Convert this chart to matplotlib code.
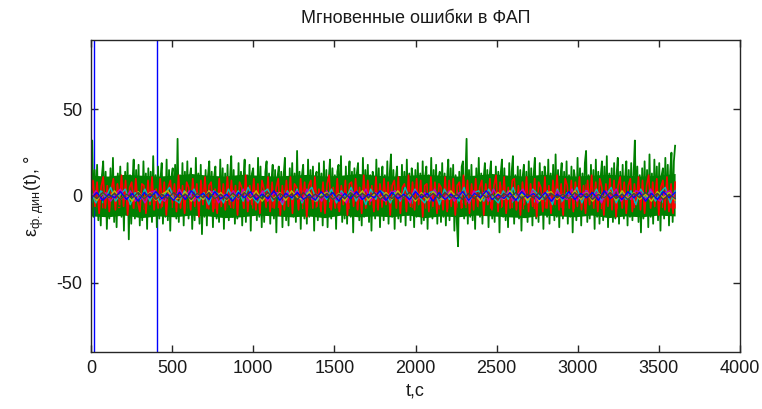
import numpy as np
import matplotlib
matplotlib.use('Agg')
import matplotlib.pyplot as plt

# phase error samples, degrees (t from 0 to 3600 s)
err_green = [
    2, 32, -12, 15, -8, 18, -14, 10, -17, 12, 20, -9, 14, -19, 7, -13, 16, -11, 22, -15, 9, -18, 13, -6,
    17, -12, 11, -20, 14, -9, 19, -25, 12, -16, 8, 21, -13, 15, -10, 18, -17, 11, -14, 20, -7, 13, -19, 16,
    -11, 14, -15, 23, -9, 12, -18, 17, -13, 10, 19, -16, 8, -12, 21, -14, 15, -20, 11, 16, -9, 18, -13, 33,
    -15, 12, -10, 19, -17, 14, -8, 20, -13, 11, 16, -19, 9, -14, 22, -11, 13, -16, 18, -22, 10, -12, 15, -17,
    12, 20, -9, 14, -18, 11, 17, -13, 9, -15, 21, -10, 16, -19, 13, -8, 18, -14, 10, 23, -12, 15, -16, 11,
    -13, 19, -11, 14, -17, 9, 21, -15, 12, -10, 18, -20, 13, 16, -9, 11, -14, 22, -12, 17, -18, 10, -15, 14,
    20, -11, 13, -16, 9, 18, -13, 15, -21, 11, 17, -10, 14, -18, 12, 22, -14, 10, -17, 16, -9, 19, -12, 13,
    -15, 26, -11, 14, -19, 12, 18, -13, 9, -16, 21, -12, 15, -10, 17, -20, 11, 14, -14, 19, -9, 13, -17, 20,
    -12, 15, -18, 10, 21, -13, 16, -11, 12, -19, 14, 18, -10, 23, -15, 11, -13, 17, -16, 9, 20, -12, 14, -21,
    16, -10, 13, 19, -14, 11, -17, 22, -12, 15, -9, 18, -15, 12, -20, 14, 10, -13, 21, -11, 16, -18, 9, 17,
    -14, 12, -10, 20, -16, 13, 24, -12, 15, -19, 10, 17, -13, 11, -15, 18, -9, 14, -17, 21, -11, 13, -14, 16,
    9, -18, 15, -12, 19, -10, 13, -16, 20, -14, 11, 17, -19, 12, -9, 22, -13, 15, -11, 18, -16, 10, 14, -15,
    19, -12, 13, -17, 10, 21, -14, 16, -11, 18, -20, 12, -15, -29, 14, -10, 17, 20, -13, 11, 33, -16, 15, -12,
    18, -14, 11, -19, 16, -9, 22, -12, 13, -16, 10, 19, -11, 15, -18, 12, 20, -13, 9, -15, 17, -10, 14, -21,
    13, 21, -12, 16, -14, 10, -18, 19, -11, 14, 23, -16, 12, -10, 17, -13, 15, -20, 11, 18, -9, 14, -15, 20,
    -11, 16, -17, 12, 22, -13, 10, -15, 19, -10, 14, -19, 17, 11, -12, 21, -16, 13, -9, 18, -14, 24, -12, 15,
    -18, 11, 19, -13, 14, -10, 20, -16, 12, -12, 17, -21, 15, 10, -14, 22, -11, 16, -17, 13, -9, 19, 26, -15,
    12, -13, 18, -10, 15, -19, 21, -12, 14, -16, 11, 20, -14, 17, -11, 23, -18, 13, -10, 16, -15, 19, -13, 12,
    22, -16, 14, -11, 18, -13, 10, 20, -17, 15, -12, 19, -14, 13, 32, -10, 17, -15, 12, -21, 16, -13, 20, -11,
    15, -18, 24, -12, 13, -16, 21, -10, 17, -14, 19, -20, 12, 16, -13, 22, -11, 18, -17, 14, 25, -15, 20, 29,
]
err_red = [
    1, 9, -6, 8, -10, 5, 11, -7, 6, -9, 4, 10, -8, 7, -5, 12, -6, 9, -11, 5, 8, -7, 10, -4,
    -9, 7, 6, -10, 9, -5, 11, -8, 4, -7, 10, -6, 8, -11, 5, 9, -4, 7, -9, 12, -7, 6, -10, 8,
    5, -8, 10, -6, 7, -12, 9, -5, 11, -7, 6, 8, -9, 4, -10, 10, -6, 7, -8, 11, -5, 9, -7, 6,
    -11, 8, 5, -7, 12, -9, 6, -5, 10, -8, 7, -10, 9, 4, -6, 11, -9, 8, -7, 5, 10, -11, 6, -8,
    9, -6, 11, -10, 7, 5, -8, 10, -5, 8, -12, 6, 9, -7, 11, -6, 4, -9, 8, -10, 7, 12, -8, 5,
    -7, 10, -9, 6, -5, 9, -11, 7, 8, -6, 10, -8, 5, -10, 12, -7, 9, -5, 6, -9, 11, -8, 7, -6,
    10, -5, 8, -11, 6, 9, -7, 11, -10, 5, 7, -9, 12, -6, 8, -8, 10, -5, 9, -12, 6, 7, -9, 11,
    -6, 8, -10, 7, 5, -8, 11, -9, 9, -6, 10, -11, 6, 8, -7, 12, -5, 9, -10, 7, -8, 10, -6, 5,
    9, -11, 7, -5, 10, -8, 6, 12, -9, 8, -6, 11, -10, 5, -7, 9, 10, -8, 6, -11, 8, -5, 11, -9,
    7, -6, 10, -12, 8, 5, -9, 11, -7, 6, -10, 9, -5, 12, -8, 7, -11, 10, 6, -7, 9, -9, 8, -6,
    11, -8, 6, -10, 9, -5, 12, -7, 8, -9, 10, 5, -11, 7, -6, 10, -8, 9, -12, 6, 11, -7, 8, -10,
    6, 10, -9, 7, -5, 11, -8, 9, -10, 6, 12, -7, 8, -6, 10, -11, 5, 9, -8, 11, -9, 7, -10, 8,
]
err_cyan = [
    2, -4, 3, -1, 5, -3, 1, 4, -5, 2, -2, 4, -3, 3, -4, 1, 5, -2, -4, 3,
    -1, 4, -3, 2, -5, 3, 1, -4, 4, -2, 3, -3, 5, -1, -4, 2, 4, -3, 1, -5,
    3, -2, 4, -4, 2, 5, -3, 1, -2, 4, -4, 3, -1, 5, -3, 2, -5, 4, -2, 3,
    1, -4, 3, -3, 5, -2, 4, -1, -4, 2, 3, -5, 4, -2, 1, -3, 5, -4, 2, 3,
    -3, 4, -1, -4, 3, -2, 5, -3, 2, -4, 4, 1, -2, 3, -5, 4, -3, 2, -1, 5,
    -4, 3, -2, 4, -3, 1, 5, -4, 2, -2, 3, -5, 4, -1, 3, -3, 2, 5, -4, 3,
]
err_magenta = [
    -1, 3, -2, 2, -3, 1, 4, -2, 3, -3, 1, -4, 2, 3, -1, -3, 2, -2, 4, -1,
    3, -3, 1, -2, 3, 2, -4, 1, -1, 3, -2, 4, -3, 2, -1, 3, -3, 1, 2, -4,
    2, -1, 3, -3, 4, -2, 1, -3, 3, -1, -2, 2, -4, 3, 1, -2, 4, -3, 2, -1,
    -3, 2, 3, -2, 1, -4, 3, -1, 2, -3, 4, -2, -1, 3, -3, 2, 1, -4, 3, -2,
    2, -3, 4, -1, -2, 3, -3, 1, 4, -2, 3, -4, 1, 2, -3, 3, -1, -2, 4, -3,
    1, 3, -2, 2, -4, 3, -1, 4, -3, 1, -2, 3, 2, -3, 4, -1, -3, 2, 3, -2,
]
err_yellow = [
    1.5, -2.5, 2, -1, 3, -2, 1, -3, 2.5, -1.5, 2, -2.5, 1, 3, -2, -1, 2.5, -3, 1.5, -2,
    3, -1.5, 2, -2.5, 1, -1, 2.5, -2, 3, -3, 1.5, -1.5, 2, -2.5, 3, -1, -2, 2.5, -3, 1,
    2, -2, 1.5, -3, 2.5, -1, 3, -2.5, 1, -1.5, 2, -2, 3, -1, 1.5, -3, 2, -2.5, 2.5, -1.5,
    -2, 3, -1, 2, -2.5, 1.5, -3, 2.5, -1.5, 2, -2, 3, -1, 1, -2.5, 2, -3, 1.5, 2.5, -2,
    1, -1.5, 3, -2, 2, -3, 1.5, -1, 2.5, -2.5, 3, -1.5, 2, -2, 1, -3, 2.5, -1, 2, -2.5,
]
err_blue = [
    -1.5, 2, -2.5, 1, -1, 2.5, -2, 1.5, -3, 2, -1, 2.5, -1.5, 1, -2.5, 2, -2, 3, -1, 1.5,
    -2, 2.5, -1.5, 1, -3, 2, -1, 2.5, -2, 1, -1.5, 3, -2.5, 1.5, -1, 2, -2, 1, -2.5, 2.5,
    -1, 2, -3, 1.5, -1.5, 2.5, -2, 1, -1, 3, -2.5, 2, -1.5, 1, -2, 2.5, -1, 1.5, -3, 2,
    -2, 1, -1.5, 2.5, -2.5, 1.5, -1, 3, -2, 1, -1.5, 2, -2.5, 2.5, -1, 1.5, -2, 2, -3, 1,
    -1.5, 2.5, -2, 1.5, -1, 2, -2.5, 3, -1.5, 1, -2, 2.5, -1, 2, -3, 1.5, -2, 2.5, -1, 2,
]
err_dark = [
    1, -1.5, 2, -1, 1.5, -2, 1, -1, 2, -1.5, 1.5, -2, 1, -1.5, 2, -1, 1, -2, 1.5, -1,
    2, -1.5, 1, -2, 1.5, -1, 2, -1, 1, -1.5, 2, -2, 1.5, -1, 1, -2, 2, -1.5, 1, -1,
    1.5, -2, 1, -1.5, 2, -1, 1.5, -1, 2, -2, 1, -1.5, 1.5, -1, 2, -2, 1, -1, 1.5, -1.5,
    2, -1, 1, -2, 1.5, -1.5, 2, -1, 1, -2, 1.5, -1, 2, -1.5, 1, -1, 2, -2, 1.5, -1,
    1, -1.5, 2, -1, 1.5, -2, 1, -1, 2, -1.5, 1, -2, 1.5, -1, 2, -1, 1.5, -2, 1, -1.5,
]

# band where the samples are densest (upper / lower edge, degrees)
band_green_hi = [12, 11.5, 12.5, 12, 11.5, 12, 13, 12, 11.5, 12.5, 12, 11.5, 12, 12.5, 11.5, 12, 13, 12,
                 11.5, 12, 12.5, 12, 11.5, 12, 13, 12, 11.5, 12.5, 12, 11.5, 12, 12.5, 12, 11.5, 12, 13]
band_green_lo = [-11.5, -12, -11, -12.5, -11.5, -12, -11, -11.5, -12.5, -12, -11, -11.5, -12, -11.5, -12.5, -11, -12, -11.5,
                 -12, -11, -12.5, -11.5, -12, -11, -11.5, -12, -12.5, -11, -11.5, -12, -11, -12.5, -11.5, -12, -11, -11.5]
band_red_hi = [7, 6.5, 7.5, 7, 6.5, 7, 7.5, 7, 6.5, 7, 7.5, 6.5, 7, 7, 6.5, 7.5, 7, 6.5,
               7, 7.5, 6.5, 7, 7, 7.5, 6.5, 7, 7.5, 7, 6.5, 7, 7.5, 7, 6.5, 7, 7, 7.5]
band_red_lo = [-6.5, -7, -6.5, -7.5, -7, -6.5, -7, -7.5, -6.5, -7, -7, -6.5, -7.5, -7, -6.5, -7, -7.5, -6.5,
               -7, -6.5, -7, -7.5, -6.5, -7, -7, -6.5, -7.5, -7, -6.5, -7, -7, -7.5, -6.5, -7, -6.5, -7]
band_cyan_hi = [3.5, 3, 4, 3.5, 2.5, 4, 3.5, 3, 3.5, 4.5, 3, 3.5, 4, 3, 3.5, 2.5, 4, 3.5,
                3, 3.5, 4, 3, 3.5, 4.5, 3.5, 3, 4, 3.5, 2.5, 3.5, 4, 3, 3.5, 4, 3.5, 4.5]
band_cyan_lo = [-3.5, -4, -3, -3.5, -4.5, -3, -3.5, -4, -3, -3.5, -3.5, -2.5, -4, -3.5, -3, -4, -3.5, -3,
                -3.5, -4.5, -3, -3.5, -4, -3.5, -3, -3.5, -4, -3, -3.5, -4.5, -3.5, -3, -4, -3.5, -3.5, -4]
band_dark_hi = [1.6, 1.5, 1.7, 1.6, 1.5, 1.7, 1.6, 1.6, 1.5, 1.7, 1.6, 1.5,
                1.7, 1.6, 1.5, 1.6, 1.7, 1.6, 1.5, 1.7, 1.6, 1.5, 1.6, 1.7]
band_dark_lo = [-1.6, -1.7, -1.5, -1.6, -1.7, -1.5, -1.6, -1.6, -1.7, -1.5, -1.6, -1.7,
                -1.5, -1.6, -1.7, -1.6, -1.5, -1.6, -1.7, -1.5, -1.6, -1.7, -1.6, -1.5]

t_end = 3600
t_marks = [20, 405]

GREEN = (0, 0.5, 0)
RED = (1, 0, 0)
CYAN = (0, 0.75, 0.75)
MAGENTA = (0.75, 0, 0.75)
YELLOW = (0.75, 0.75, 0)
BLUE = (0, 0, 1)
DARK = (0.25, 0.25, 0.25)

# drawing order: (samples, band_hi, band_lo, colour, line width)
layers = [
    (err_green, band_green_hi, band_green_lo, GREEN, 1.3),
    (err_red, band_red_hi, band_red_lo, RED, 1.2),
    (err_cyan, band_cyan_hi, band_cyan_lo, CYAN, 1.0),
    (err_magenta, None, None, MAGENTA, 1.0),
    (err_yellow, None, None, YELLOW, 1.0),
    (err_blue, None, None, BLUE, 1.0),
    (err_dark, band_dark_hi, band_dark_lo, DARK, 1.0),
]

plt.rcParams['font.family'] = ['Liberation Sans', 'DejaVu Sans']
plt.rcParams['mathtext.fontset'] = 'custom'
plt.rcParams['mathtext.rm'] = 'Liberation Sans'
plt.rcParams['mathtext.it'] = 'Liberation Sans:italic'
plt.rcParams['axes.unicode_minus'] = False

dpi = 100
fig = plt.figure(dpi=dpi, figsize=(762 / dpi, 409 / dpi))
ax = fig.add_axes([91 / 762, 1 - 352 / 409, 649 / 762, 312 / 409])

for x in t_marks:
    ax.axvline(x, color=BLUE, lw=1.0)

for values, hi, lo, color, lw in layers:
    if hi is not None:
        tb = np.linspace(0, t_end, len(hi))
        ax.fill_between(tb, lo, hi, color=color, lw=0)
    t = np.linspace(0, t_end, len(values))
    ax.plot(t, values, color=color, lw=lw)

ax.set_xlim(0, 4000)
ax.set_ylim(-90, 90)
ax.set_xticks(range(0, 4001, 500))
ax.set_yticks([-50, 0, 50])
ax.tick_params(direction='in', top=True, right=True, length=5, width=1,
               labelsize=13, color='#262626', labelcolor='#1a1a1a', pad=6)
for s in ax.spines.values():
    s.set_color('#262626')
    s.set_linewidth(1)

ax.set_title('Мгновенные ошибки в ФАП', fontsize=13, color='#1a1a1a', pad=12)
ax.set_xlabel('t,c', fontsize=13, color='#1a1a1a', labelpad=4)
ax.set_ylabel(r'$\mathrm{ε}_{\mathrm{ф.дин}}$(t), °', fontsize=13, color='#1a1a1a', labelpad=8)

fig.savefig('out.png', dpi=dpi)
